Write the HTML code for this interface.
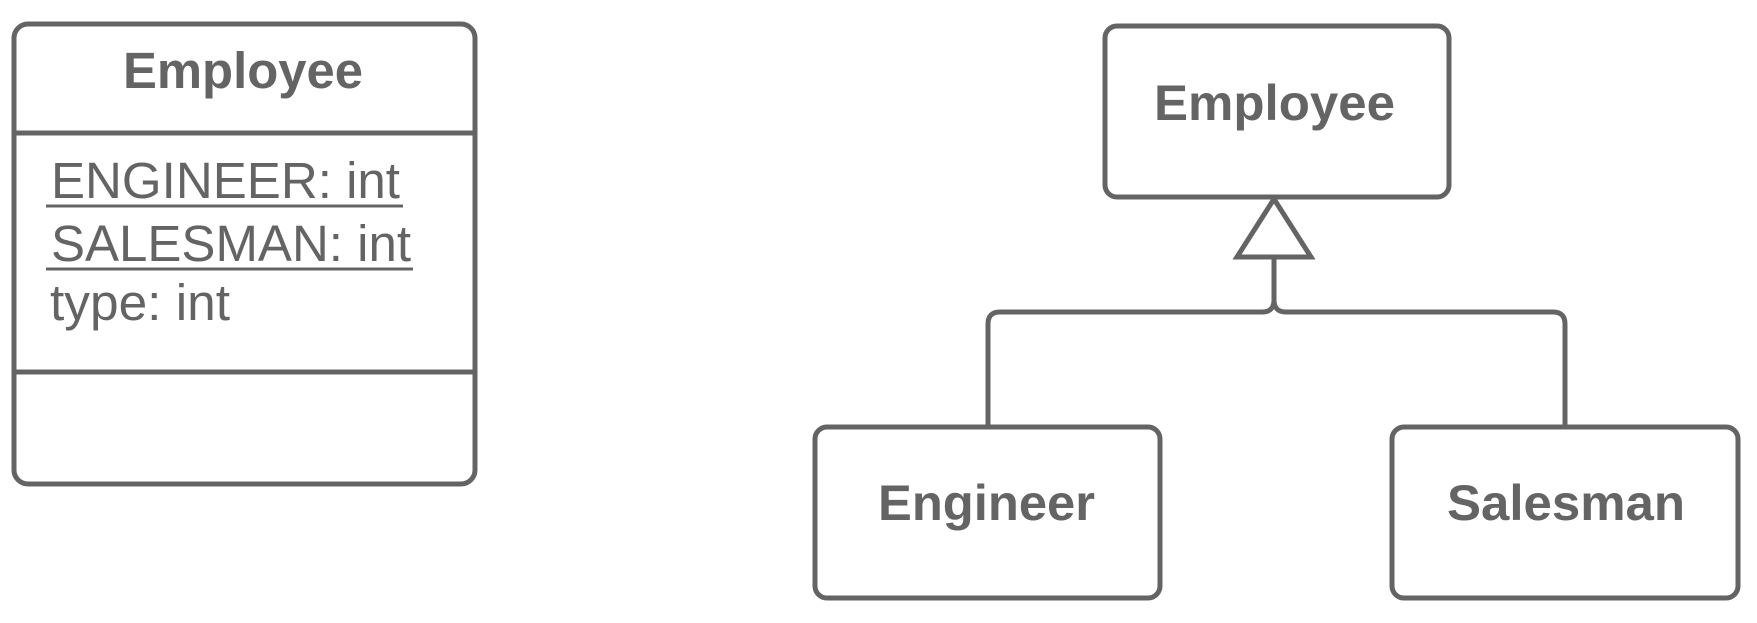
<!DOCTYPE html>
<html><head><meta charset="utf-8"><style>
html,body{margin:0;padding:0;background:#fff;}
svg{display:block;}
text{font-family:"Liberation Sans",Arial,sans-serif;fill:#646464;}
</style></head><body>
<svg width="1757" height="623" viewBox="0 0 1757 623" xmlns="http://www.w3.org/2000/svg">
<g fill="none" stroke="#646464" stroke-width="5">
<rect x="14" y="24" width="461" height="460" rx="14"/>
<line x1="14" y1="133" x2="475" y2="133"/>
<line x1="14" y1="372" x2="475" y2="372"/>
<rect x="1105" y="26" width="344" height="171" rx="12"/>
<rect x="815" y="427" width="345" height="171" rx="12"/>
<rect x="1392" y="427" width="346" height="171" rx="12"/>
<path d="M1274 257 V300 Q1274 312 1262 312 H1000 Q988 312 988 324 V427"/>
<path d="M1274 300 Q1274 312 1286 312 H1553 Q1565 312 1565 324 V427"/>
<polygon points="1274,199 1237,257 1311,257" fill="#fff"/>
</g>
<text x="123" y="88" font-size="51" font-weight="bold" textLength="240" lengthAdjust="spacingAndGlyphs">Employee</text>
<text x="51" y="198" font-size="51" textLength="349" lengthAdjust="spacingAndGlyphs">ENGINEER: int</text>
<line x1="46" y1="206" x2="403" y2="206" stroke="#646464" stroke-width="3"/>
<text x="51" y="261" font-size="51" textLength="360" lengthAdjust="spacingAndGlyphs">SALESMAN: int</text>
<line x1="46" y1="269" x2="413" y2="269" stroke="#646464" stroke-width="3"/>
<text x="50" y="320" font-size="51" textLength="180" lengthAdjust="spacingAndGlyphs">type: int</text>
<text x="1154" y="120" font-size="50" font-weight="bold" textLength="241" lengthAdjust="spacingAndGlyphs">Employee</text>
<text x="878" y="520" font-size="50" font-weight="bold" textLength="217" lengthAdjust="spacingAndGlyphs">Engineer</text>
<text x="1447" y="520" font-size="50" font-weight="bold" textLength="238" lengthAdjust="spacingAndGlyphs">Salesman</text>
</svg>
</body></html>
